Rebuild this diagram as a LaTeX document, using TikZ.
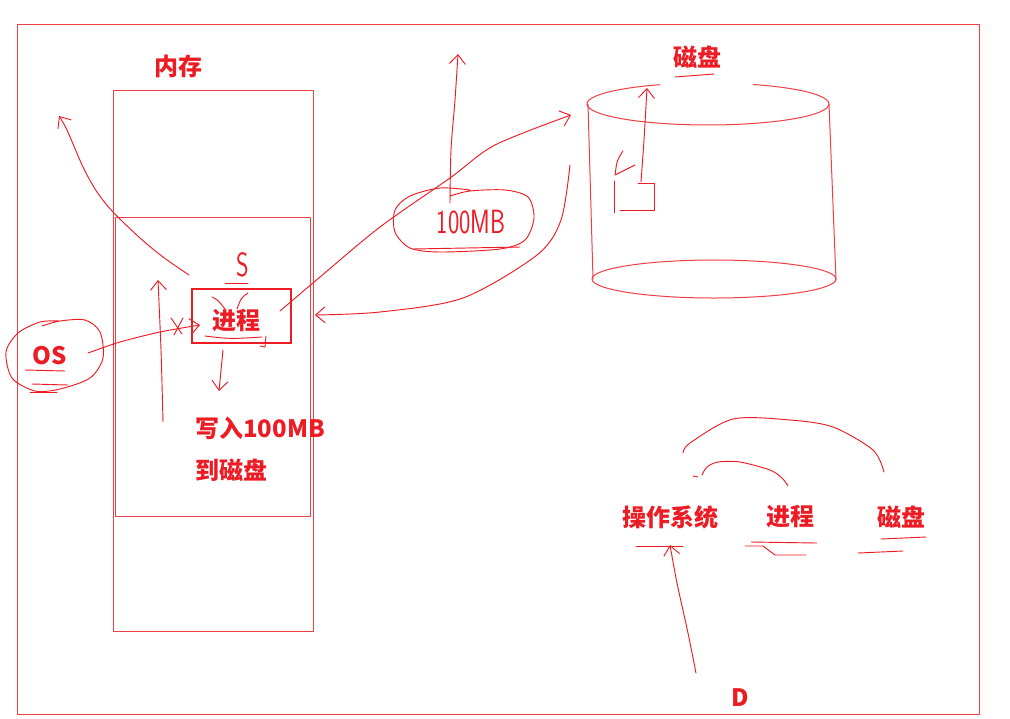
\documentclass[tikz,border=0pt]{standalone}
\usepackage{fontspec}
\newfontfamily\cjk{Noto Sans CJK SC}
\usetikzlibrary{arrows.meta}
\definecolor{pen}{RGB}{237,28,36}
\tikzset{
  ink/.style={draw=pen!85, line width=0.75pt, line cap=round, line join=round},
  sketch/.style={draw=pen, line width=0.7pt, line cap=round, line join=round},
  barb/.style={-{Straight Barb[length=7pt,width=12pt,line width=0.7pt]}},
  lbl/.style={text=pen, font=\cjk\bfseries\fontsize{18}{21}\selectfont, inner sep=0pt},
  handtxt/.style={text=pen, font=\sffamily\fontsize{18}{20}\selectfont, inner sep=0pt},
  boxnode/.style={draw=pen, line width=0.8pt, inner sep=0pt},
}
\begin{document}
\begin{tikzpicture}[x=0.75pt,y=-0.75pt]
\useasboundingbox (0,0) rectangle (1010,718);
\fill[white] (0,0) rectangle (1010,718);

% outer frame and memory
\draw[ink] (17,24) rectangle (979,714);
\draw[ink] (113,90) rectangle (313,631);
\draw[ink] (115,217) rectangle (310,516);
\node[lbl] (mem) at (178,66) {内存};

% process box
\node[boxnode, minimum width=74.25pt, minimum height=40.5pt] (pbox) at (241.5,316) {};
\node[lbl] (proc) at (236,321) {进程};
\node[handtxt, yscale=1.4, transform shape] (s) at (243,265) {S};
\draw[sketch] (225,283) -- (248,283);
% marks on the process label
\draw[sketch] (212,297) .. controls (218,300) .. (225,309);
\draw[sketch] (248,293) .. controls (241,298) .. (237,309);
\draw[sketch] (205,336) .. controls (230,339) .. (262,337);
\draw[sketch] (266,336) -- (265,347) -- (260,346);

% OS
\node[lbl] (os) at (50,356) {OS};
\draw[sketch] plot[smooth] coordinates {(60,321) (40,322) (18,333) (6,352) (12,378) (35,391) (60,389) (90,378) (103,358) (100,332) (85,320) (60,321) (42,326)};
\draw[sketch] (25,370) -- (65,371);
\draw[sketch] (32,384) -- (68,385);
\draw[sketch] (30,392) -- (57,392);
\coordinate (osend) at (88,353);
\coordinate (pin) at (200,325);
\draw[sketch, barb] plot[smooth] coordinates {(osend) (120,342) (160,332) (pin)};
\draw[sketch] (171,318) -- (182,334);
\draw[sketch] (183,318) -- (174,335);

% arrows inside memory
\coordinate (upA) at (163,422);
\coordinate (upB) at (158,280);
\draw[sketch, barb] plot[smooth] coordinates {(upA) (161,350) (upB)};
\coordinate (dnA) at (223,350);
\coordinate (dnB) at (219,391);
\draw[sketch, barb] (dnA) -- (dnB);
\node[lbl, anchor=west] (w1) at (195,428) {写入100MB};
\node[lbl, anchor=west] (w2) at (195,470) {到磁盘};

% curve to upper left
\coordinate (ulA) at (189,275);
\coordinate (ulB) at (59,116);
\draw[sketch, barb] plot[smooth] coordinates {(ulA) (163,257) (140,238) (113,212) (97,192) (83,167) (67,130) (ulB)};

% disk (cylinder)
\draw[ink] (753.3,84.5) arc[start angle=292, end angle=606.6, x radius=121, y radius=21];
\draw[ink] (588,104) -- (593,279);
\draw[ink] (829,104) -- (836,280);
\draw[ink] (714,279) ellipse[x radius=122, y radius=19];
\node[lbl] (disk) at (697,57) {磁盘};
\draw[sketch] (675,77) -- (714,74);
% small block in disk
\draw[sketch] (638,183) -- (654,183) -- (654,210) -- (620,210);
\draw[sketch] (614,181) -- (614,213);
\draw[sketch] (623,151) .. controls (617,160) .. (615,175) -- (635,165);
\coordinate (blkA) at (641,182);
\coordinate (blkB) at (647,88);
\draw[sketch, barb] plot[smooth] coordinates {(blkA) (644,140) (blkB)};

% 100MB bubble
\node[handtxt, yscale=1.4, transform shape] (mb) at (471,222) {100MB};
\draw[sketch] plot[smooth] coordinates {(470,190) (440,188) (410,196) (395,210) (395,232) (410,248) (440,252) (500,249) (525,240) (534,218) (528,197) (505,190) (470,191) (450,196)};
\draw[sketch] (413,249) -- (520,247);
\coordinate (mbA) at (450,203);
\coordinate (mbB) at (458,54);
\draw[sketch, barb] plot[smooth] coordinates {(mbA) (451,150) (455,100) (mbB)};

% process -> disk
\coordinate (pd1) at (280,311);
\coordinate (pd2) at (571,115);
\draw[sketch, barb] plot[smooth] coordinates {(pd1) (320,277) (380,227) (450,178) (495,145) (pd2)};
% disk -> process
\coordinate (dp1) at (570,165);
\coordinate (dp2) at (315,315);
\draw[sketch, barb] plot[smooth] coordinates {(dp1) (561,220) (537,255) (463,298) (380,312) (dp2)};

% bottom right
\node[lbl] (os2) at (670,517) {操作系统};
\node[lbl] (proc2) at (790,517) {进程};
\node[lbl] (disk2) at (901,517) {磁盘};
\draw[sketch] (636,546) -- (683,546);
\draw[sketch] (751,542) -- (817,543);
\draw[sketch] (745,546) -- (763,546) -- (775,555) -- (806,555);
\draw[sketch] (881,539) -- (926,537);
\draw[sketch] (858,553) -- (903,551);
\draw[sketch] plot[smooth] coordinates {(683,453) (690,443) (733,419) (790,420) (833,427) (873,450) (884,472)};
\draw[sketch] (693,476) -- (698,477);
\draw[sketch] plot[smooth] coordinates {(702,475) (707,467) (718,462) (740,462) (770,470) (782,478) (788,486)};
\node[lbl] (d) at (740,698) {D};
\coordinate (dA) at (696,673);
\coordinate (dB) at (670,545);
\draw[sketch, barb] plot[smooth] coordinates {(dA) (688,633) (677,583) (dB)};
\end{tikzpicture}
\end{document}
